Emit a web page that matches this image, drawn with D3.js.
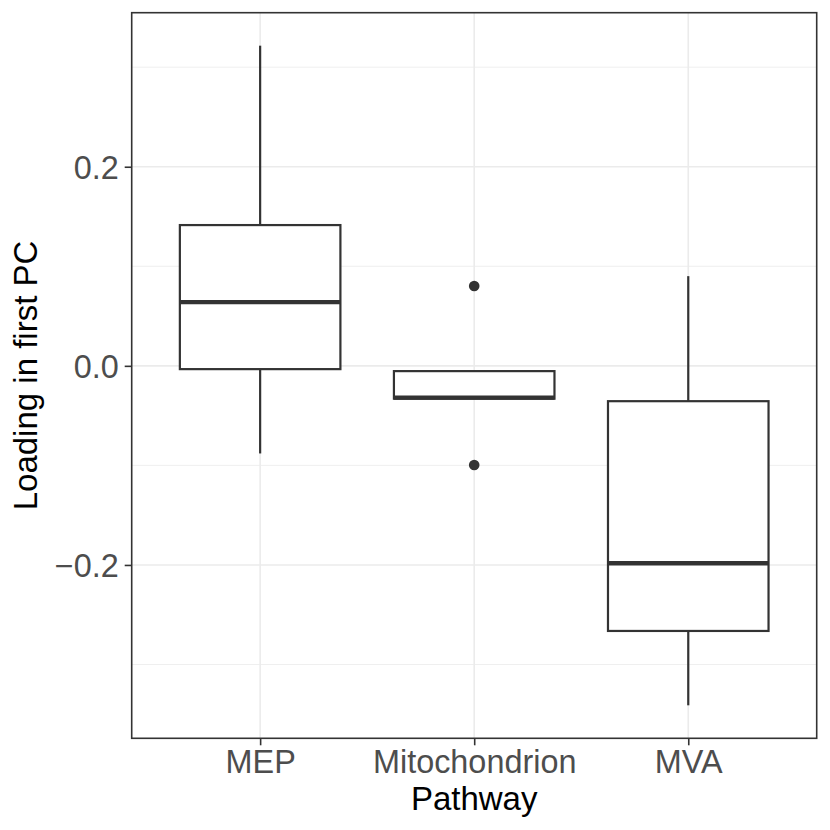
<!DOCTYPE html>
<html>
<head>
<meta charset="utf-8">
<script src="https://cdn.jsdelivr.net/npm/d3@7"></script>
<style>
	body { margin: 0; background: #fff; }
	text { font-family: "Liberation Sans", Arial, sans-serif; }
</style>
</head>
<body>
<script>
// categories and box statistics
var pathways = ["MEP", "Mitochondrion", "MVA"];
var whiskerLow  = [-0.088, -0.033, -0.341];
var lowerQ      = [-0.0033, -0.033, -0.2663];
var medians     = [0.064, -0.032, -0.1983];
var upperQ      = [0.1414, -0.0053, -0.0355];
var whiskerHigh = [0.3216, -0.0053, 0.0901];
var outliers = [
	{Pathway: "Mitochondrion", value: 0.0802},
	{Pathway: "Mitochondrion", value: -0.0996}
];
var yTicks = [-0.2, 0.0, 0.2];
var yMinor = [-0.3, -0.1, 0.1, 0.3];

var width = 830, height = 830;
var margin = {top: 12.7, right: 13.3, bottom: 91.7, left: 131.7};
var w = width - margin.left - margin.right,
	h = height - margin.top - margin.bottom;

var boxes = pathways.map(function(p, i) {
	return {Pathway: p, lo: whiskerLow[i], q1: lowerQ[i], med: medians[i], q3: upperQ[i], hi: whiskerHigh[i]};
});

var svg = d3.select("body").append("svg")
	.attr("width", width)
	.attr("height", height);

var g = svg.append("g")
	.attr("transform", "translate(" + margin.left + "," + margin.top + ")");

// ggplot style expansion: 5% continuous, 0.6 discrete
var yMin = d3.min(whiskerLow), yMax = d3.max(whiskerHigh);
var pad = (yMax - yMin) * 0.05;
var yScale = d3.scaleLinear()
	.domain([yMin - pad, yMax + pad])
	.range([h, 0]);
var xScale = d3.scaleLinear()
	.domain([0.4, pathways.length + 0.6])
	.range([0, w]);
var xPos = function(p) { return xScale(pathways.indexOf(p) + 1); };
var boxW = xScale(1.75) - xScale(1);

// grid
g.selectAll(".minor").data(yMinor).enter().append("line")
	.attr("x1", 0).attr("x2", w)
	.attr("y1", function(d) { return yScale(d); })
	.attr("y2", function(d) { return yScale(d); })
	.attr("stroke", "#EBEBEB").attr("stroke-width", 0.8);
g.selectAll(".major").data(yTicks).enter().append("line")
	.attr("x1", 0).attr("x2", w)
	.attr("y1", function(d) { return yScale(d); })
	.attr("y2", function(d) { return yScale(d); })
	.attr("stroke", "#EBEBEB").attr("stroke-width", 1.6);
g.selectAll(".xmajor").data(pathways).enter().append("line")
	.attr("x1", xPos).attr("x2", xPos)
	.attr("y1", 0).attr("y2", h)
	.attr("stroke", "#EBEBEB").attr("stroke-width", 1.6);

// boxes
var bx = g.selectAll(".box").data(boxes).enter().append("g");
bx.append("line")
	.attr("x1", function(d) { return xPos(d.Pathway); })
	.attr("x2", function(d) { return xPos(d.Pathway); })
	.attr("y1", function(d) { return yScale(d.hi); })
	.attr("y2", function(d) { return yScale(d.q3); })
	.attr("stroke", "#333333").attr("stroke-width", 2.2);
bx.append("line")
	.attr("x1", function(d) { return xPos(d.Pathway); })
	.attr("x2", function(d) { return xPos(d.Pathway); })
	.attr("y1", function(d) { return yScale(d.q1); })
	.attr("y2", function(d) { return yScale(d.lo); })
	.attr("stroke", "#333333").attr("stroke-width", 2.2);
bx.append("rect")
	.attr("x", function(d) { return xPos(d.Pathway) - boxW / 2; })
	.attr("width", boxW)
	.attr("y", function(d) { return yScale(d.q3); })
	.attr("height", function(d) { return yScale(d.q1) - yScale(d.q3); })
	.attr("fill", "#fff")
	.attr("stroke", "#333333").attr("stroke-width", 2.2);
bx.append("line")
	.attr("x1", function(d) { return xPos(d.Pathway) - boxW / 2; })
	.attr("x2", function(d) { return xPos(d.Pathway) + boxW / 2; })
	.attr("y1", function(d) { return yScale(d.med); })
	.attr("y2", function(d) { return yScale(d.med); })
	.attr("stroke", "#333333").attr("stroke-width", 4.3);

g.selectAll(".outlier").data(outliers).enter().append("circle")
	.attr("cx", function(d) { return xPos(d.Pathway); })
	.attr("cy", function(d) { return yScale(d.value); })
	.attr("r", 5.3)
	.attr("fill", "#333333");

// panel border
g.append("rect")
	.attr("width", w).attr("height", h)
	.attr("fill", "none")
	.attr("stroke", "#333333").attr("stroke-width", 1.6);

// axes
var yAxis = d3.axisLeft(yScale)
	.tickValues(yTicks)
	.tickSize(7).tickPadding(6)
	.tickFormat(function(d) { return d3.format(".1f")(d).replace("-", "\u2212"); });
var ya = g.append("g").call(yAxis);
var xAxis = d3.axisBottom(xScale)
	.tickValues([1, 2, 3])
	.tickSize(7).tickPadding(5)
	.tickFormat(function(d) { return pathways[d - 1]; });
var xa = g.append("g")
	.attr("transform", "translate(0," + h + ")")
	.call(xAxis);
[ya, xa].forEach(function(a) {
	a.select(".domain").remove();
	a.selectAll(".tick line").attr("stroke", "#333333").attr("stroke-width", 1.6);
	a.selectAll(".tick text")
		.attr("fill", "#4D4D4D")
		.style("font-size", "32.4px")
		.style("font-family", "Liberation Sans, Arial, sans-serif");
});
ya.selectAll(".tick text").attr("dy", "0.35em");

// axis titles
svg.append("text")
	.attr("text-anchor", "middle")
	.attr("x", margin.left + w / 2)
	.attr("y", 810)
	.style("font-size", "33px")
	.text("Pathway");
svg.append("text")
	.attr("text-anchor", "middle")
	.attr("transform", "translate(" + 37 + "," + (margin.top + h / 2) + ") rotate(-90)")
	.style("font-size", "33px")
	.text("Loading in first PC");
</script>
</body>
</html>
